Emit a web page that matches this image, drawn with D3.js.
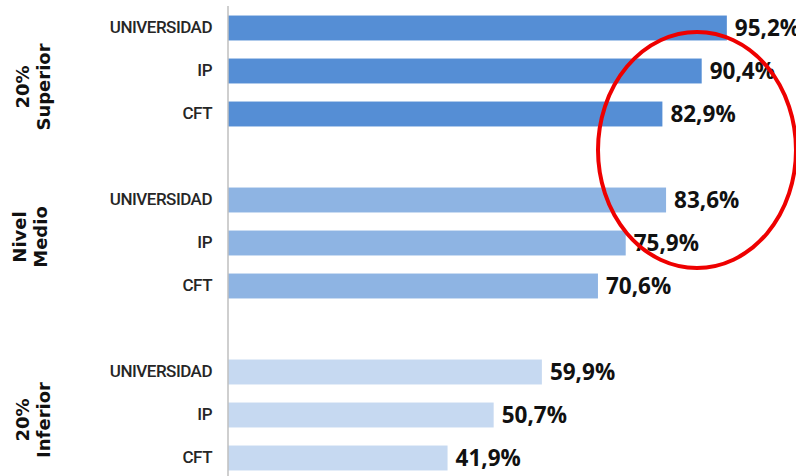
<!DOCTYPE html>
<html>
<head>
<meta charset="utf-8">
<script src="https://cdn.jsdelivr.net/npm/d3@7"></script>
<style>
  body { margin: 0; background: #fff; }
  svg { display: block; }
</style>
</head>
<body>
<svg id="chart"></svg>
<script>
"use strict"

// data
const groups = ["20% Superior", "Nivel Medio", "20% Inferior"];
const groupLines = [["20%", "Superior"], ["Nivel", "Medio"], ["20%", "Inferior"]];
const categories = ["UNIVERSIDAD", "IP", "CFT"];
const values = [
    [95.2, 90.4, 82.9],
    [83.6, 75.9, 70.6],
    [59.9, 50.7, 41.9]
];
const groupColors = ["#558ed5", "#8eb4e3", "#c6d9f1"];

const width = 796, height = 476;
const svg = d3.select("#chart").attr("width", width).attr("height", height);

// one slot per bar, plus an empty slot between groups
const slots = [];
groups.forEach((g, gi) => {
    categories.forEach((c, ci) => slots.push(`${gi}-${ci}`));
    if (gi < groups.length - 1) slots.push(`gap-${gi}`);
});

const y = d3.scaleBand().domain(slots).range([6.5, 479.5]).paddingInner(0.42).paddingOuter(0.21);
const x = d3.scaleLinear().domain([0, 100]).range([228, 752]);

const rows = [];
groups.forEach((g, gi) => categories.forEach((c, ci) => rows.push({
    key: `${gi}-${ci}`, group: gi, cat: c, value: values[gi][ci]
})));

// bars
svg.selectAll(".bar")
    .data(rows)
    .enter().append("rect")
    .attr("class", "bar")
    .attr("x", x(0))
    .attr("y", d => y(d.key))
    .attr("width", d => x(d.value) - x(0))
    .attr("height", y.bandwidth())
    .attr("fill", d => groupColors[d.group]);

// category axis
const axis = svg.append("g")
    .attr("transform", `translate(${x(0)},0)`)
    .call(d3.axisLeft(y).tickSize(0).tickPadding(16)
        .tickFormat(k => k.startsWith("gap") ? "" : categories[+k.split("-")[1]]));
axis.select(".domain").remove();
axis.selectAll("text")
    .style("font-family", "Roboto, sans-serif")
    .style("font-weight", "500")
    .style("font-size", "17px")
    .style("letter-spacing", "-0.5px")
    .attr("fill", "#262626");

svg.append("line")
    .attr("x1", x(0)).attr("x2", x(0))
    .attr("y1", 6).attr("y2", height)
    .attr("stroke", "#bfbfbf")
    .attr("stroke-width", 1.5);

// value labels
const fmt = v => d3.format(".1f")(v).replace(".", ",") + "%";
svg.selectAll(".val")
    .data(rows)
    .enter().append("text")
    .attr("class", "val")
    .attr("x", d => x(d.value) + 8)
    .attr("y", d => y(d.key) + y.bandwidth() / 2)
    .attr("dy", "0.36em")
    .style("font-family", "'Open Sans', sans-serif")
    .style("font-weight", "bold")
    .style("font-size", "22.5px")
    .attr("fill", "#111")
    .text(d => fmt(d.value));

// group labels (rotated)
const labelShift = [16, -6, 5];
groupLines.forEach((lines, gi) => {
    const cy = y(`${gi}-1`) + y.bandwidth() / 2 + labelShift[gi];
    const t = svg.append("text")
        .attr("transform", `translate(${gi === 1 ? 28 : 31},${cy}) rotate(-90)`)
        .attr("text-anchor", "middle")
        .style("font-family", "'DejaVu Sans', sans-serif")
        .style("font-weight", "bold")
        .style("font-size", "18px")
        .attr("fill", "#111");
    lines.forEach((s, i) => t.append("tspan")
        .attr("x", 0).attr("dy", i === 0 ? "-0.1em" : "1.15em").text(s));
});

// red highlight ellipse
svg.append("ellipse")
    .attr("cx", 697).attr("cy", 150)
    .attr("rx", 99).attr("ry", 118)
    .attr("fill", "none")
    .attr("stroke", "#ee0000")
    .attr("stroke-width", 4);
</script>
</body>
</html>
